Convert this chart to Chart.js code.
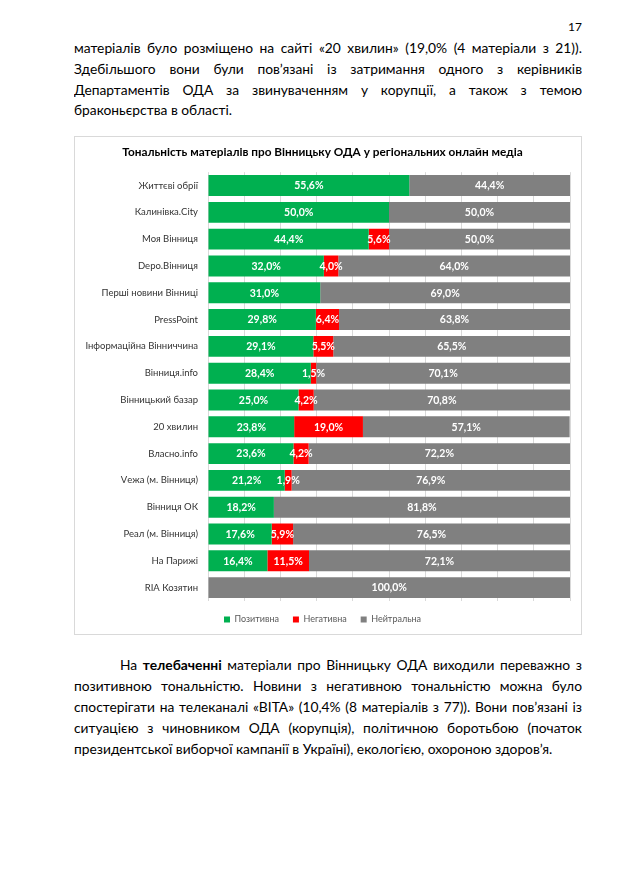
<!DOCTYPE html>
<html>
<head>
<meta charset="utf-8">
<script src="https://cdn.jsdelivr.net/npm/chart.js@4"></script>
<style>
html,body{margin:0;padding:0;background:#fff;}
body{width:627px;height:886px;position:relative;overflow:hidden;font-family:Lato,"Open Sans",sans-serif;color:#000;}
.ln{position:absolute;left:74px;width:508px;height:21px;line-height:21px;font-size:13.8px;overflow:hidden;}
.j{text-align:justify;text-align-last:justify;}
.pg{position:absolute;top:18px;left:540px;width:42px;text-align:right;font-size:12px;line-height:18px;}
#box{position:absolute;left:74px;top:136px;width:508px;height:499px;box-sizing:border-box;border:1px solid #D9D9D9;background:#fff;}
#box canvas{display:block;}
</style>
</head>
<body>
<div class="pg">17</div>
<div class="ln j" style="top:37px">матеріалів було розміщено на сайті «20 хвилин» (19,0% (4 матеріали з 21)).</div>
<div class="ln j" style="top:58px">Здебільшого вони були пов’язані із затримання одного з керівників</div>
<div class="ln j" style="top:79px">Департаментів ОДА за звинуваченням у корупції, а також з темою</div>
<div class="ln" style="top:99px">браконьєрства в області.</div>

<div id="box"><canvas id="c" width="506" height="497"></canvas></div>

<div class="ln j" style="top:654px;left:120px;width:462px">На <b>телебаченні</b> матеріали про Вінницьку ОДА виходили переважно з</div>
<div class="ln j" style="top:675px">позитивною тональністю. Новини з негативною тональністю можна було</div>
<div class="ln j" style="top:696px">спостерігати на телеканалі «ВІТА» (10,4% (8 матеріалів з 77)). Вони пов’язані із</div>
<div class="ln j" style="top:717px">ситуацією з чиновником ОДА (корупція), політичною боротьбою (початок</div>
<div class="ln" style="top:738px">президентської виборчої кампанії в Україні), екологією, охороною здоров’я.</div>

<script>
const chartTitle = 'Тональність матеріалів про Вінницьку ОДА у регіональних онлайн медіа';
const categories = [
  'Життєві обрії', 'Калинівка.City', 'Моя Вінниця', 'Depo.Вінниця',
  'Перші новини Вінниці', 'PressPoint', 'Інформаційна Вінниччина', 'Вінниця.info',
  'Вінницький базар', '20 хвилин', 'Власно.info', 'Vежа (м. Вінниця)',
  'Вінниця ОК', 'Реал (м. Вінниця)', 'На Парижі', 'RIA Козятин'
];
const seriesNames = ['Позитивна', 'Негативна', 'Нейтральна'];
const positive = [55.6, 50.0, 44.4, 32.0, 31.0, 29.8, 29.1, 28.4, 25.0, 23.8, 23.6, 21.2, 18.2, 17.6, 16.4, 0];
const negative = [0, 0, 5.6, 4.0, 0, 6.4, 5.5, 1.5, 4.2, 19.0, 4.2, 1.9, 0, 5.9, 11.5, 0];
const neutral  = [44.4, 50.0, 50.0, 64.0, 69.0, 63.8, 65.5, 70.1, 70.8, 57.1, 72.2, 76.9, 81.8, 76.5, 72.1, 100.0];
const seriesColors = ['#00B050', '#FF0000', '#808080'];

const fmt = v => v.toFixed(1).replace('.', ',') + '%';

const valueLabels = {
  id: 'valueLabels',
  afterDatasetsDraw(chart) {
    const ctx = chart.ctx;
    ctx.save();
    ctx.font = 'bold 10.5px Lato, sans-serif';
    ctx.fillStyle = '#FFFFFF';
    ctx.textAlign = 'center';
    ctx.textBaseline = 'middle';
    chart.data.datasets.forEach((ds, i) => {
      const meta = chart.getDatasetMeta(i);
      meta.data.forEach((el, j) => {
        const v = ds.data[j];
        if (!v) return;
        ctx.fillText(fmt(v), (el.x + el.base) / 2, el.y + 0.5);
      });
    });
    ctx.restore();
  }
};

const seriesData = [positive, negative, neutral];
new Chart(document.getElementById('c'), {
  type: 'bar',
  data: {
    labels: categories,
    datasets: seriesNames.map((n, i) => ({
      label: n,
      data: seriesData[i],
      backgroundColor: seriesColors[i],
      borderWidth: 0,
      barPercentage: 0.78,
      categoryPercentage: 1.0
    }))
  },
  options: {
    indexAxis: 'y',
    responsive: false,
    animation: false,
    layout: { padding: { left: 0, right: 11, top: 0, bottom: 0 } },
    scales: {
      x: {
        stacked: true, min: 0, max: 100,
        ticks: { display: false, stepSize: 10 },
        grid: { color: '#D9D9D9', lineWidth: 1, drawTicks: false },
        border: { display: false }
      },
      y: {
        stacked: true,
        grid: { display: false, drawTicks: false },
        border: { display: false },
        ticks: { color: '#333333', font: { family: 'Lato', size: 9.5 }, padding: 10 },
        afterFit(scale) { scale.width = 133; }
      }
    },
    plugins: {
      title: {
        display: true, text: chartTitle, color: '#000',
        font: { family: 'Lato', size: 11.8, weight: 'bold' },
        padding: { top: 8, bottom: 13 }
      },
      legend: {
        position: 'bottom',
        labels: {
          boxWidth: 6, boxHeight: 6, padding: 14, color: '#595959',
          font: { family: 'Lato', size: 9 }
        }
      },
      tooltip: { enabled: false }
    }
  },
  plugins: [valueLabels]
});
</script>
</body>
</html>
